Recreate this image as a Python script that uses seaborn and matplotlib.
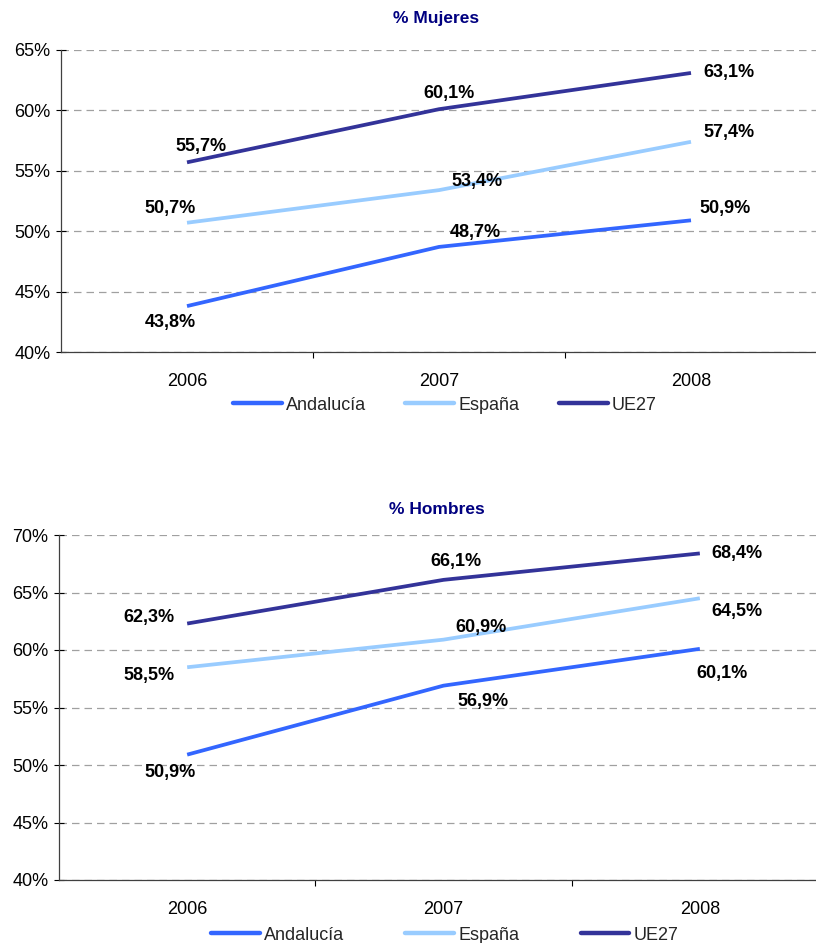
import numpy as np
import pandas as pd
import matplotlib
matplotlib.use("Agg")
import matplotlib.pyplot as plt
import seaborn as sns
from matplotlib.lines import Line2D
from matplotlib.ticker import FixedLocator, FuncFormatter

years = ["2006", "2007", "2008"]
series = ["Andalucía", "España", "UE27"]

mujeres_andalucia = [43.8, 48.7, 50.9]
mujeres_espana = [50.7, 53.4, 57.4]
mujeres_ue27 = [55.7, 60.1, 63.1]

hombres_andalucia = [50.9, 56.9, 60.1]
hombres_espana = [58.5, 60.9, 64.5]
hombres_ue27 = [62.3, 66.1, 68.4]

colors = {"Andalucía": "#3366ff", "España": "#99ccff", "UE27": "#333399"}

# label offsets in pixels (x, y) per series / year
mujeres_offsets = {
    "Andalucía": [(-17, -16), (36, 14), (34, 12)],
    "España": [(-17, 14), (38, 9), (38, 9)],
    "UE27": [(14, 16), (10, 16), (38, 0)],
}
hombres_offsets = {
    "Andalucía": [(-17, -18), (40, -16), (22, -25)],
    "España": [(-38, -8), (38, 12), (37, -13)],
    "UE27": [(-38, 6), (12, 18), (37, 0)],
}


def make_df(a, e, u):
    rows = []
    for name, vals in zip(series, [a, e, u]):
        for i, v in enumerate(vals):
            rows.append({"year": i, "serie": name, "value": v})
    return pd.DataFrame(rows)


def fmt(v):
    return f"{v:.1f}%".replace(".", ",")


def draw(ax, df, offsets, ymin, ymax):
    sns.lineplot(data=df, x="year", y="value", hue="serie", palette=colors,
                 linewidth=2.7, ax=ax, legend=False, solid_capstyle="butt")
    ax.set_xlim(-0.5, 2.5)
    ax.set_ylim(ymin, ymax)
    ax.set_xlabel("")
    ax.set_ylabel("")
    ax.yaxis.set_major_locator(FixedLocator(np.arange(ymin, ymax + 1, 5)))
    ax.yaxis.set_major_formatter(FuncFormatter(lambda v, p: f"{v:.0f}%"))
    ax.grid(axis="y", color="#a0a0a0", linestyle=(0, (6, 4)), linewidth=0.9)
    ax.grid(axis="x", visible=False)
    ax.set_xticks([0, 1, 2])
    ax.set_xticklabels(years)
    ax.tick_params(axis="x", which="major", bottom=False, length=0, pad=15,
                   labelsize=13, labelcolor="black")
    ax.set_xticks([0.5, 1.5], minor=True)
    ax.tick_params(axis="x", which="minor", bottom=True, length=4, width=0.8, color="black")
    ax.tick_params(axis="y", left=True, direction="inout", length=7, width=0.8,
                   labelsize=13, pad=4, color="black", labelcolor="black")
    for s in ["top", "right"]:
        ax.spines[s].set_visible(False)
    for s in ["left", "bottom"]:
        ax.spines[s].set_color("#404040")
        ax.spines[s].set_linewidth(0.9)
    for name in series:
        d = df[df["serie"] == name]
        for (_, r), off in zip(d.iterrows(), offsets[name]):
            ax.annotate(fmt(r["value"]), (r["year"], r["value"]), xytext=off,
                        textcoords="offset pixels", ha="center", va="center",
                        fontsize=13, fontweight="bold", color="black")


sns.set_theme(style="white")
plt.rcParams["font.family"] = ["Liberation Sans", "DejaVu Sans"]

fig = plt.figure(figsize=(8.16, 9.43), dpi=100)
ax1 = fig.add_axes([61 / 816, 1 - 352 / 943, 756 / 816, 302 / 943])
ax2 = fig.add_axes([59 / 816, 1 - 880 / 943, 769 / 816, 345 / 943])

draw(ax1, make_df(mujeres_andalucia, mujeres_espana, mujeres_ue27), mujeres_offsets, 40, 65)
draw(ax2, make_df(hombres_andalucia, hombres_espana, hombres_ue27), hombres_offsets, 40, 70)

fig.text(0.535, 1 - 19 / 943, "% Mujeres", ha="center", va="center",
         fontsize=12.5, fontweight="bold", color="#000080")
fig.text(0.535, 1 - 510 / 943, "% Hombres", ha="center", va="center",
         fontsize=12.5, fontweight="bold", color="#000080")

handles = [Line2D([0], [0], color=colors[n], linewidth=3.2, solid_capstyle="round") for n in series]
fig.legend(handles, series, loc="center", bbox_to_anchor=(0.545, 1 - 405 / 943), ncol=3,
           frameon=False, fontsize=13, handlelength=2.7, handletextpad=0.22,
           columnspacing=2.2, borderpad=0)
fig.legend(handles, series, loc="center", bbox_to_anchor=(0.545, 1 - 935 / 943), ncol=3,
           frameon=False, fontsize=13, handlelength=2.7, handletextpad=0.22,
           columnspacing=3.4, borderpad=0)

fig.savefig("out.png", dpi=100)
